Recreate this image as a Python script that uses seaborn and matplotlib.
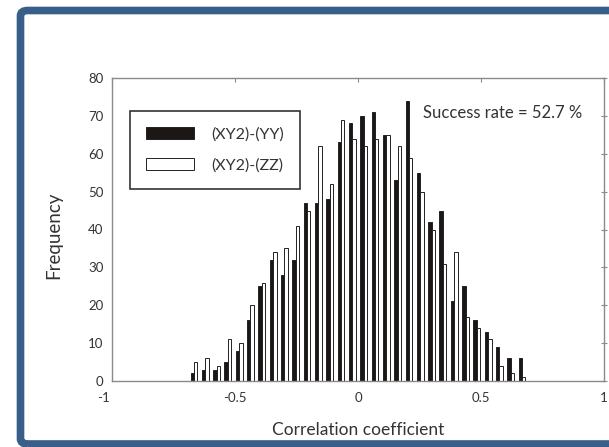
import numpy as np
import pandas as pd
import seaborn as sns
import matplotlib.pyplot as plt
from matplotlib.patches import FancyBboxPatch
from matplotlib.transforms import ScaledTranslation

# bin centres of the correlation coefficient histogram
bin_centers = [-0.667, -0.621, -0.575, -0.529, -0.483, -0.437, -0.391, -0.345,
               -0.299, -0.253, -0.207, -0.161, -0.115, -0.069, -0.023, 0.023,
               0.069, 0.115, 0.161, 0.207, 0.253, 0.299, 0.345, 0.391,
               0.437, 0.483, 0.529, 0.575, 0.621, 0.667]

# (XY2)-(YY) counts, black bars
freq_yy = [2, 3, 3, 5, 8, 16, 25, 32, 28, 32, 47, 47, 48, 63, 68,
           70, 71, 65, 53, 74, 55, 42, 45, 21, 25, 16, 13, 9, 6, 6]
# (XY2)-(ZZ) counts, white bars
freq_zz = [5, 6, 4, 11, 10, 20, 26, 34, 35, 41, 45, 62, 52, 69, 64,
           62, 64, 65, 62, 59, 50, 40, 31, 34, 17, 14, 11, 4, 2, 1]

series_names = ["(XY2)-(YY)", "(XY2)-(ZZ)"]
x_ticks = [-1, -0.5, 0, 0.5, 1]
x_tick_labels = ["-1", "-0.5", "0", "0.5", "1"]
y_ticks = [0, 10, 20, 30, 40, 50, 60, 70, 80]

df = pd.DataFrame({
    "center": bin_centers * 2,
    "freq": freq_yy + freq_zz,
    "series": [series_names[0]] * len(freq_yy) + [series_names[1]] * len(freq_zz),
})

sns.set_style("white")
plt.rcParams['font.family'] = ['Lato', 'DejaVu Sans']

fig = plt.figure(figsize=(6.09, 4.47), dpi=100)
ax = fig.add_axes([112 / 609, 1 - 381 / 447, 492 / 609, 303 / 447])

sns.barplot(data=df, x="center", y="freq", hue="series", native_scale=True,
            palette={series_names[0]: "#1e1512", series_names[1]: "white"},
            edgecolor="#222222", linewidth=0.7, width=0.6, ax=ax)

ax.set_xlim(-1, 1)
ax.set_ylim(0, 80)
ax.set_xticks(x_ticks)
ax.set_xticklabels(x_tick_labels)
ax.set_yticks(y_ticks)

for s in ax.spines.values():
    s.set_color("#8a8a8a")
    s.set_linewidth(1.0)

ax.tick_params(axis="both", labelsize=9.5, colors="#8a8a8a", labelcolor="#333333")
ax.tick_params(axis="y", direction="inout", length=4, width=0.8, right=True, pad=4)
ax.tick_params(axis="x", direction="in", length=3, width=0.8, top=True, pad=8)
# shift the "-1" label a bit to the left, as in the original
lbl = ax.get_xticklabels()[0]
lbl.set_transform(lbl.get_transform() + ScaledTranslation(-9 / 100, 0, fig.dpi_scale_trans))

ax.set_xlabel("Correlation coefficient", fontsize=12.5, color="#333333")
ax.set_ylabel("Frequency", fontsize=13.5, color="#333333")
ax.xaxis.set_label_coords(0.5, -0.135)
ax.yaxis.set_label_coords(-0.102, 0.48)

ax.text(0.264, 70.7, "Success rate = 52.7 %", fontsize=12, color="#333333",
        va="center", ha="left")

sns.move_legend(ax, "upper left", bbox_to_anchor=(0.0366, 0.892), title=None,
                frameon=True, fontsize=11.5, handlelength=3.0, handleheight=0.8,
                handletextpad=1.1, labelspacing=1.05, borderpad=1.0,
                borderaxespad=0, fancybox=False)
leg = ax.get_legend()
leg.get_frame().set_edgecolor("black")
leg.get_frame().set_linewidth(1.2)
for t in leg.get_texts():
    t.set_color("#333333")

# blue frame around the figure
frame = FancyBboxPatch((20.5 / 609, 1 - 444 / 447), 700 / 609, 433.5 / 447,
                       boxstyle="round,pad=0,rounding_size=0.012",
                       transform=fig.transFigure, fill=False,
                       edgecolor="#3a5e8a", linewidth=5.5, clip_on=False)
fig.patches.append(frame)

fig.savefig("out.png", dpi=100)
